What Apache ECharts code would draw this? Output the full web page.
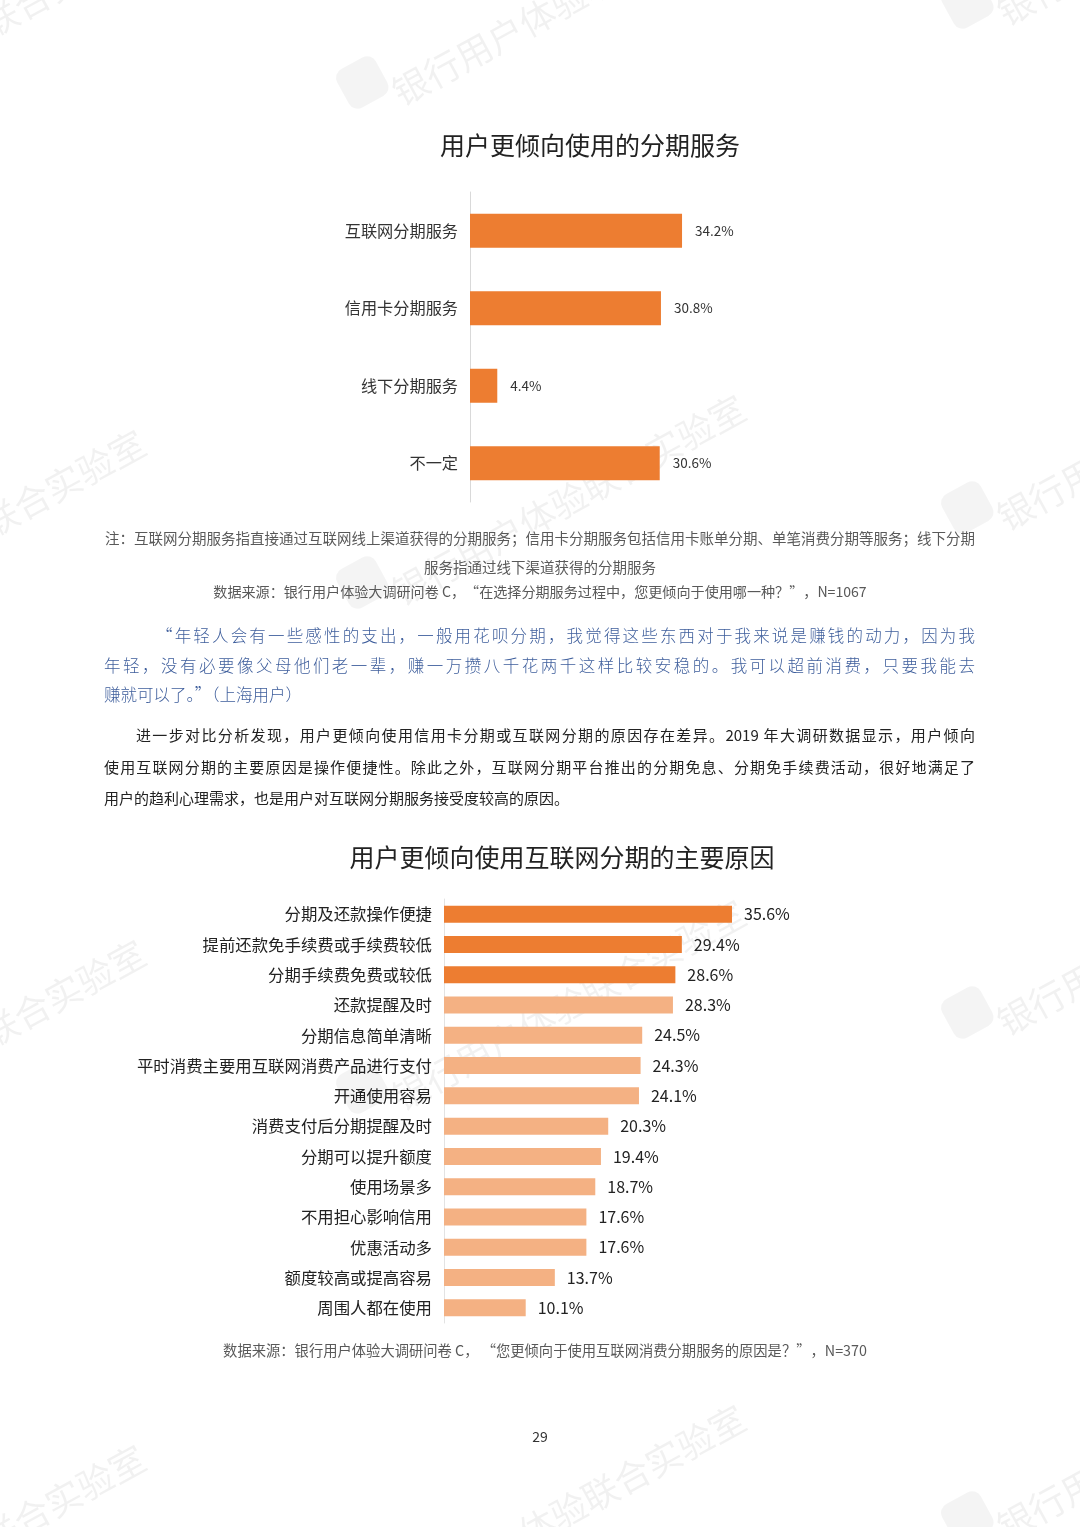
<!DOCTYPE html>
<html>
<head>
<meta charset="utf-8">
<script src="https://cdn.jsdelivr.net/npm/echarts@6/dist/echarts.min.js"></script>
<style>
  html, body { margin: 0; padding: 0; background: #fff; }
  #page { position: relative; width: 1080px; height: 1527px; overflow: hidden; }
  #chart { position: absolute; left: 0; top: 0; width: 1080px; height: 1527px; }
  .ln { position: absolute; white-space: normal; pointer-events: none; }
  .j { text-align: justify; text-align-last: justify; }
  .q { font-family: "Noto Sans CJK SC", sans-serif; font-size: 16.5px; line-height: 24px; color: #3e5e9c; font-weight: 300; }
  .p { font-family: "Noto Sans CJK SC", sans-serif; font-size: 15px; line-height: 24px; color: #222; }
</style>
</head>
<body>
<div id="page">
  <div id="chart"></div>
  <div class="ln q j" style="left:156px; top:623px; width:819px;">“年轻人会有一些感性的支出，一般用花呗分期，我觉得这些东西对于我来说是赚钱的动力，因为我</div>
  <div class="ln q j" style="left:104px; top:653px; width:871px;">年轻，没有必要像父母他们老一辈，赚一万攒八千花两千这样比较安稳的。我可以超前消费，只要我能去</div>
  <div class="ln q" style="left:104px; top:682px; width:871px;">赚就可以了。”（上海用户）</div>
  <div class="ln p j" style="left:136px; top:723px; width:839px;">进一步对比分析发现，用户更倾向使用信用卡分期或互联网分期的原因存在差异。2019 年大调研数据显示，用户倾向</div>
  <div class="ln p j" style="left:104px; top:755px; width:871px;">使用互联网分期的主要原因是操作便捷性。除此之外，互联网分期平台推出的分期免息、分期免手续费活动，很好地满足了</div>
  <div class="ln p" style="left:104px; top:786px; width:871px;">用户的趋利心理需求，也是用户对互联网分期服务接受度较高的原因。</div>
</div>
<script>
var title1 = '用户更倾向使用的分期服务';
var title2 = '用户更倾向使用互联网分期的主要原因';
var cat1 = ['互联网分期服务', '信用卡分期服务', '线下分期服务', '不一定'];
var val1 = [34.2, 30.8, 4.4, 30.6];
var cat2 = ['分期及还款操作便捷', '提前还款免手续费或手续费较低', '分期手续费免费或较低', '还款提醒及时',
  '分期信息简单清晰', '平时消费主要用互联网消费产品进行支付', '开通使用容易', '消费支付后分期提醒及时',
  '分期可以提升额度', '使用场景多', '不用担心影响信用', '优惠活动多', '额度较高或提高容易', '周围人都在使用'];
var val2 = [35.6, 29.4, 28.6, 28.3, 24.5, 24.3, 24.1, 20.3, 19.4, 18.7, 17.6, 17.6, 13.7, 10.1];
var highlightCount2 = 3;
var note1a = '注：互联网分期服务指直接通过互联网线上渠道获得的分期服务；信用卡分期服务包括信用卡账单分期、单笔消费分期等服务；线下分期';
var note1b = '服务指通过线下渠道获得的分期服务';
var source1 = '数据来源：银行用户体验大调研问卷 C，“在选择分期服务过程中，您更倾向于使用哪一种？”，N=1067';
var source2 = '数据来源：银行用户体验大调研问卷 C， “您更倾向于使用互联网消费分期服务的原因是？”，N=370';
var pageNo = '29';
var watermark = '银行用户体验联合实验室';

var DARK = '#ED7D31', LIGHT = '#F4B183';
var FONT = '"Noto Sans CJK SC", "Noto Sans", sans-serif';

var chart = echarts.init(document.getElementById('chart'), null, { renderer: 'canvas' });

function txt(x, y, s, size, color, align, extra) {
  var o = {
    type: 'text', x: x, y: y, z: 10,
    style: { text: s, fill: color, fontSize: size, fontFamily: FONT, textAlign: align || 'center', textVerticalAlign: 'middle' }
  };
  if (extra) for (var k in extra) o.style[k] = extra[k];
  return o;
}

var graphics = [];
// watermarks
var wmPos = [[395, 95], [395, 595], [395, 1100], [395, 1605], [1000, 15], [1000, 520], [1000, 1025], [1000, 1530],
  [-205, 130], [-205, 630], [-205, 1140], [-205, 1645]];
wmPos.forEach(function (p) {
  graphics.push({
    type: 'text', x: p[0], y: p[1], rotation: 0.5, z: 1, silent: true,
    style: { text: watermark, fill: 'rgba(0,0,0,0.055)', fontSize: 36, fontFamily: FONT, textAlign: 'left', textVerticalAlign: 'middle' }
  });
  graphics.push({
    type: 'rect', x: p[0] - 52, y: p[1] - 2, rotation: 0.5, z: 1, silent: true,
    shape: { x: 0, y: -22, width: 44, height: 44, r: 10 },
    style: { fill: 'rgba(0,0,0,0.045)' }
  });
});
graphics.push(txt(590, 145, title1, 25, '#222'));
graphics.push(txt(540, 538, note1a, 14.5, '#595959'));
graphics.push(txt(540, 567, note1b, 14.5, '#595959'));
graphics.push(txt(540, 592, source1, 14.1, '#595959'));
graphics.push(txt(562, 857, title2, 25, '#222'));
graphics.push(txt(545, 1351, source2, 14.3, '#595959'));
graphics.push(txt(540, 1437, pageNo, 14, '#333'));

var option = {
  animation: false,
  textStyle: { fontFamily: FONT },
  graphic: graphics,
  grid: [
    { left: 470, top: 192, width: 310, height: 310, containLabel: false },
    { left: 444, top: 899, width: 404.5, height: 424, containLabel: false }
  ],
  xAxis: [
    { gridIndex: 0, type: 'value', min: 0, max: 50, show: false },
    { gridIndex: 1, type: 'value', min: 0, max: 50, show: false }
  ],
  yAxis: [
    { gridIndex: 0, type: 'category', data: cat1, inverse: true,
      axisLine: { show: true, lineStyle: { color: '#d9d9d9', width: 1 } },
      axisTick: { show: false }, splitLine: { show: false },
      axisLabel: { fontSize: 16.2, color: '#333', margin: 12, fontFamily: FONT } },
    { gridIndex: 1, type: 'category', data: cat2, inverse: true,
      axisLine: { show: true, lineStyle: { color: '#e3e3e3', width: 1 } },
      axisTick: { show: false }, splitLine: { show: false },
      axisLabel: { fontSize: 16.4, color: '#222', margin: 12, fontFamily: FONT } }
  ],
  series: [
    { type: 'bar', xAxisIndex: 0, yAxisIndex: 0, data: val1, barWidth: 34,
      itemStyle: { color: DARK },
      label: { show: true, position: 'right', distance: 13, fontSize: 13.5, color: '#333', fontFamily: FONT,
        formatter: function (p) { return p.value.toFixed(1) + '%'; } } },
    { type: 'bar', xAxisIndex: 1, yAxisIndex: 1, barWidth: 17,
      data: val2.map(function (v, i) { return { value: v, itemStyle: { color: i < highlightCount2 ? DARK : LIGHT } }; }),
      label: { show: true, position: 'right', distance: 12, fontSize: 16, color: '#222', fontFamily: FONT,
        formatter: function (p) { return p.value.toFixed(1) + '%'; } } }
  ]
};
chart.setOption(option);
</script>
</body>
</html>
